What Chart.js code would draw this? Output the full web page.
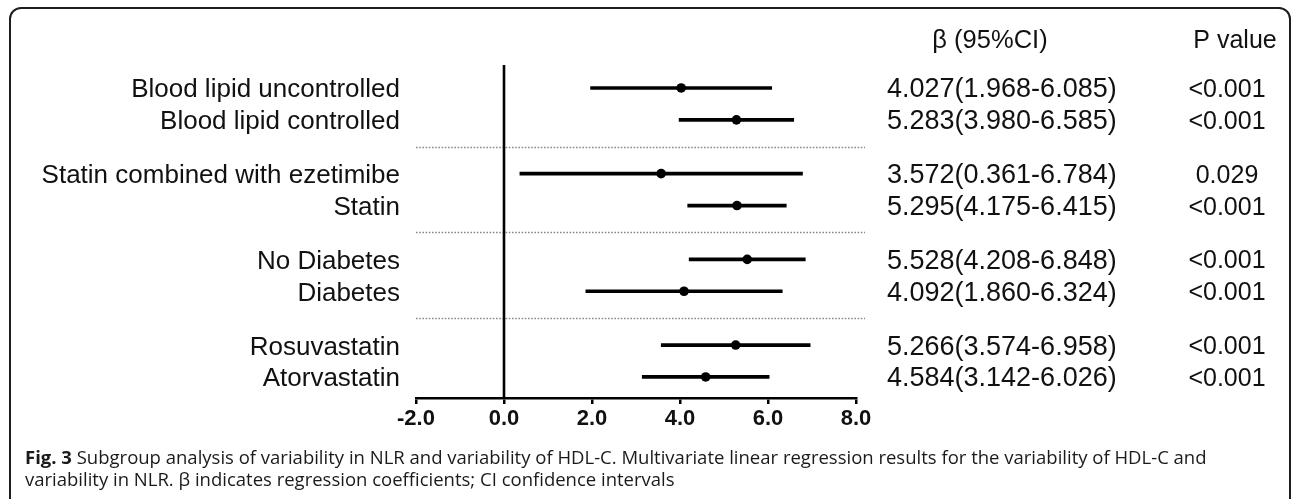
<!DOCTYPE html>
<html>
<head>
<meta charset="utf-8">
<script src="https://cdn.jsdelivr.net/npm/chart.js@4.4.1/dist/chart.umd.min.js"></script>
<style>
  html, body { margin:0; padding:0; background:#fff; width:1292px; height:499px; overflow:hidden; }
  #frame { position:absolute; left:9px; top:7px; width:1282px; height:560px; box-sizing:border-box;
           border:2px solid #1e1e1e; border-radius:12px; }
  #c { position:absolute; left:0; top:0; }
  #caption { position:absolute; left:25px; top:446px; font-family:"Open Sans", "Noto Sans", sans-serif;
             font-size:18.5px; line-height:22px; color:#1a1a1a; white-space:nowrap; }
  #caption b { font-weight:700; }
</style>
</head>
<body>
<div id="frame"></div>
<canvas id="c" width="1292" height="499"></canvas>
<div id="caption"><b>Fig. 3</b> Subgroup analysis of variability in NLR and variability of HDL-C. Multivariate linear regression results for the variability of HDL-C and<br>variability in NLR. β indicates regression coefficients; CI confidence intervals</div>
<script>
// ---- data ----
const subgroups = ['Blood lipid uncontrolled','Blood lipid controlled','Statin combined with ezetimibe','Statin',
                   'No Diabetes','Diabetes','Rosuvastatin','Atorvastatin'];
const groupIds  = [0,0,1,1,2,2,3,3];
const betas     = [4.027,5.283,3.572,5.295,5.528,4.092,5.266,4.584];
const lowerCI   = [1.968,3.980,0.361,4.175,4.208,1.860,3.574,3.142];
const upperCI   = [6.085,6.585,6.784,6.415,6.848,6.324,6.958,6.026];
const pValues   = ['<0.001','<0.001','0.029','<0.001','<0.001','<0.001','<0.001','<0.001'];
const xTickValues = [-2,0,2,4,6,8];
const headerCI = 'β (95%CI)';
const headerP  = 'P value';

// ---- layout (row index with gaps between groups) ----
const GROUP_STEP = 2.6875;
const rowPos = subgroups.map((_, i) => groupIds[i] * GROUP_STEP + (i % 2));
const ciText = betas.map((b, i) => b.toFixed(3) + '(' + lowerCI[i].toFixed(3) + '-' + upperCI[i].toFixed(3) + ')');

const FONT = '"Liberation Sans", Arial, sans-serif';

const decor = {
  id: 'decor',
  beforeDatasetsDraw(chart) {
    const ctx = chart.ctx, xs = chart.scales.x, ys = chart.scales.y, a = chart.chartArea;
    ctx.save();
    // dotted group separators
    ctx.strokeStyle = '#8a8a8a';
    ctx.lineWidth = 1.6;
    ctx.setLineDash([1.6, 1.6]);
    for (let i = 1; i < subgroups.length; i++) {
      if (groupIds[i] !== groupIds[i-1]) {
        const y = Math.round(ys.getPixelForValue((rowPos[i] + rowPos[i-1]) / 2)) + 0.5;
        ctx.beginPath(); ctx.moveTo(a.left, y); ctx.lineTo(a.right + 9, y); ctx.stroke();
      }
    }
    ctx.setLineDash([]);
    // zero line
    const x0 = xs.getPixelForValue(0);
    ctx.strokeStyle = '#000'; ctx.lineWidth = 2.6;
    ctx.beginPath(); ctx.moveTo(x0, a.top); ctx.lineTo(x0, a.bottom); ctx.stroke();
    ctx.restore();
  },
  afterDraw(chart) {
    const ctx = chart.ctx, ys = chart.scales.y;
    ctx.save();
    ctx.fillStyle = '#111';
    ctx.textBaseline = 'alphabetic';
    // subgroup labels
    ctx.font = '26px ' + FONT;
    ctx.textAlign = 'right';
    subgroups.forEach((s, i) => {
      const y = ys.getPixelForValue(rowPos[i]);
      ctx.fillText(s, 400, y + 9.5);
    });
    // CI column
    ctx.font = '27px ' + FONT;
    ctx.textAlign = 'left';
    ciText.forEach((s, i) => {
      const y = ys.getPixelForValue(rowPos[i]);
      ctx.fillText(s, 887, y + 9.5);
    });
    // P column
    ctx.font = '25px ' + FONT;
    ctx.textAlign = 'center';
    pValues.forEach((s, i) => {
      const y = ys.getPixelForValue(rowPos[i]);
      ctx.fillText(s, 1227, y + 9);
    });
    // headers
    ctx.fillText(headerP, 1235, 48);
    ctx.font = '25.5px ' + FONT;
    ctx.fillText(headerCI, 990, 48);
    ctx.restore();
  }
};

new Chart(document.getElementById('c'), {
  data: {
    datasets: [
      {
        type: 'bar',
        indexAxis: 'y',
        data: rowPos.map((p, i) => ({ x: [lowerCI[i], upperCI[i]], y: p })),
        backgroundColor: '#000',
        borderWidth: 0,
        barThickness: 3
      },
      {
        type: 'scatter',
        data: rowPos.map((p, i) => ({ x: betas[i], y: p })),
        backgroundColor: '#000',
        borderColor: '#000',
        pointRadius: 4.8,
        borderWidth: 0
      }
    ]
  },
  options: {
    responsive: false,
    animation: false,
    events: [],
    layout: { padding: { left: 416, right: 436, top: 65, bottom: 0 } },
    scales: {
      x: {
        type: 'linear',
        min: xTickValues[0],
        max: xTickValues[xTickValues.length - 1],
        afterBuildTicks: s => { s.ticks = xTickValues.map(v => ({ value: v })); },
        afterFit: s => { s.height = 101; },
        ticks: {
          callback: v => Number(v).toFixed(1),
          color: '#111',
          font: { family: FONT, size: 22, weight: 'bold' },
          padding: 2,
          maxRotation: 0, autoSkip: false
        },
        grid: { drawOnChartArea: false, drawTicks: true, tickLength: 6, color: '#000', lineWidth: 2.5 },
        border: { display: true, color: '#000', width: 2.6 }
      },
      y: {
        type: 'linear',
        reverse: true,
        offset: false,
        min: -0.72,
        max: rowPos[rowPos.length - 1] + 0.66,
        display: false
      }
    },
    plugins: { legend: { display: false }, tooltip: { enabled: false } }
  },
  plugins: [decor]
});
</script>
</body>
</html>
